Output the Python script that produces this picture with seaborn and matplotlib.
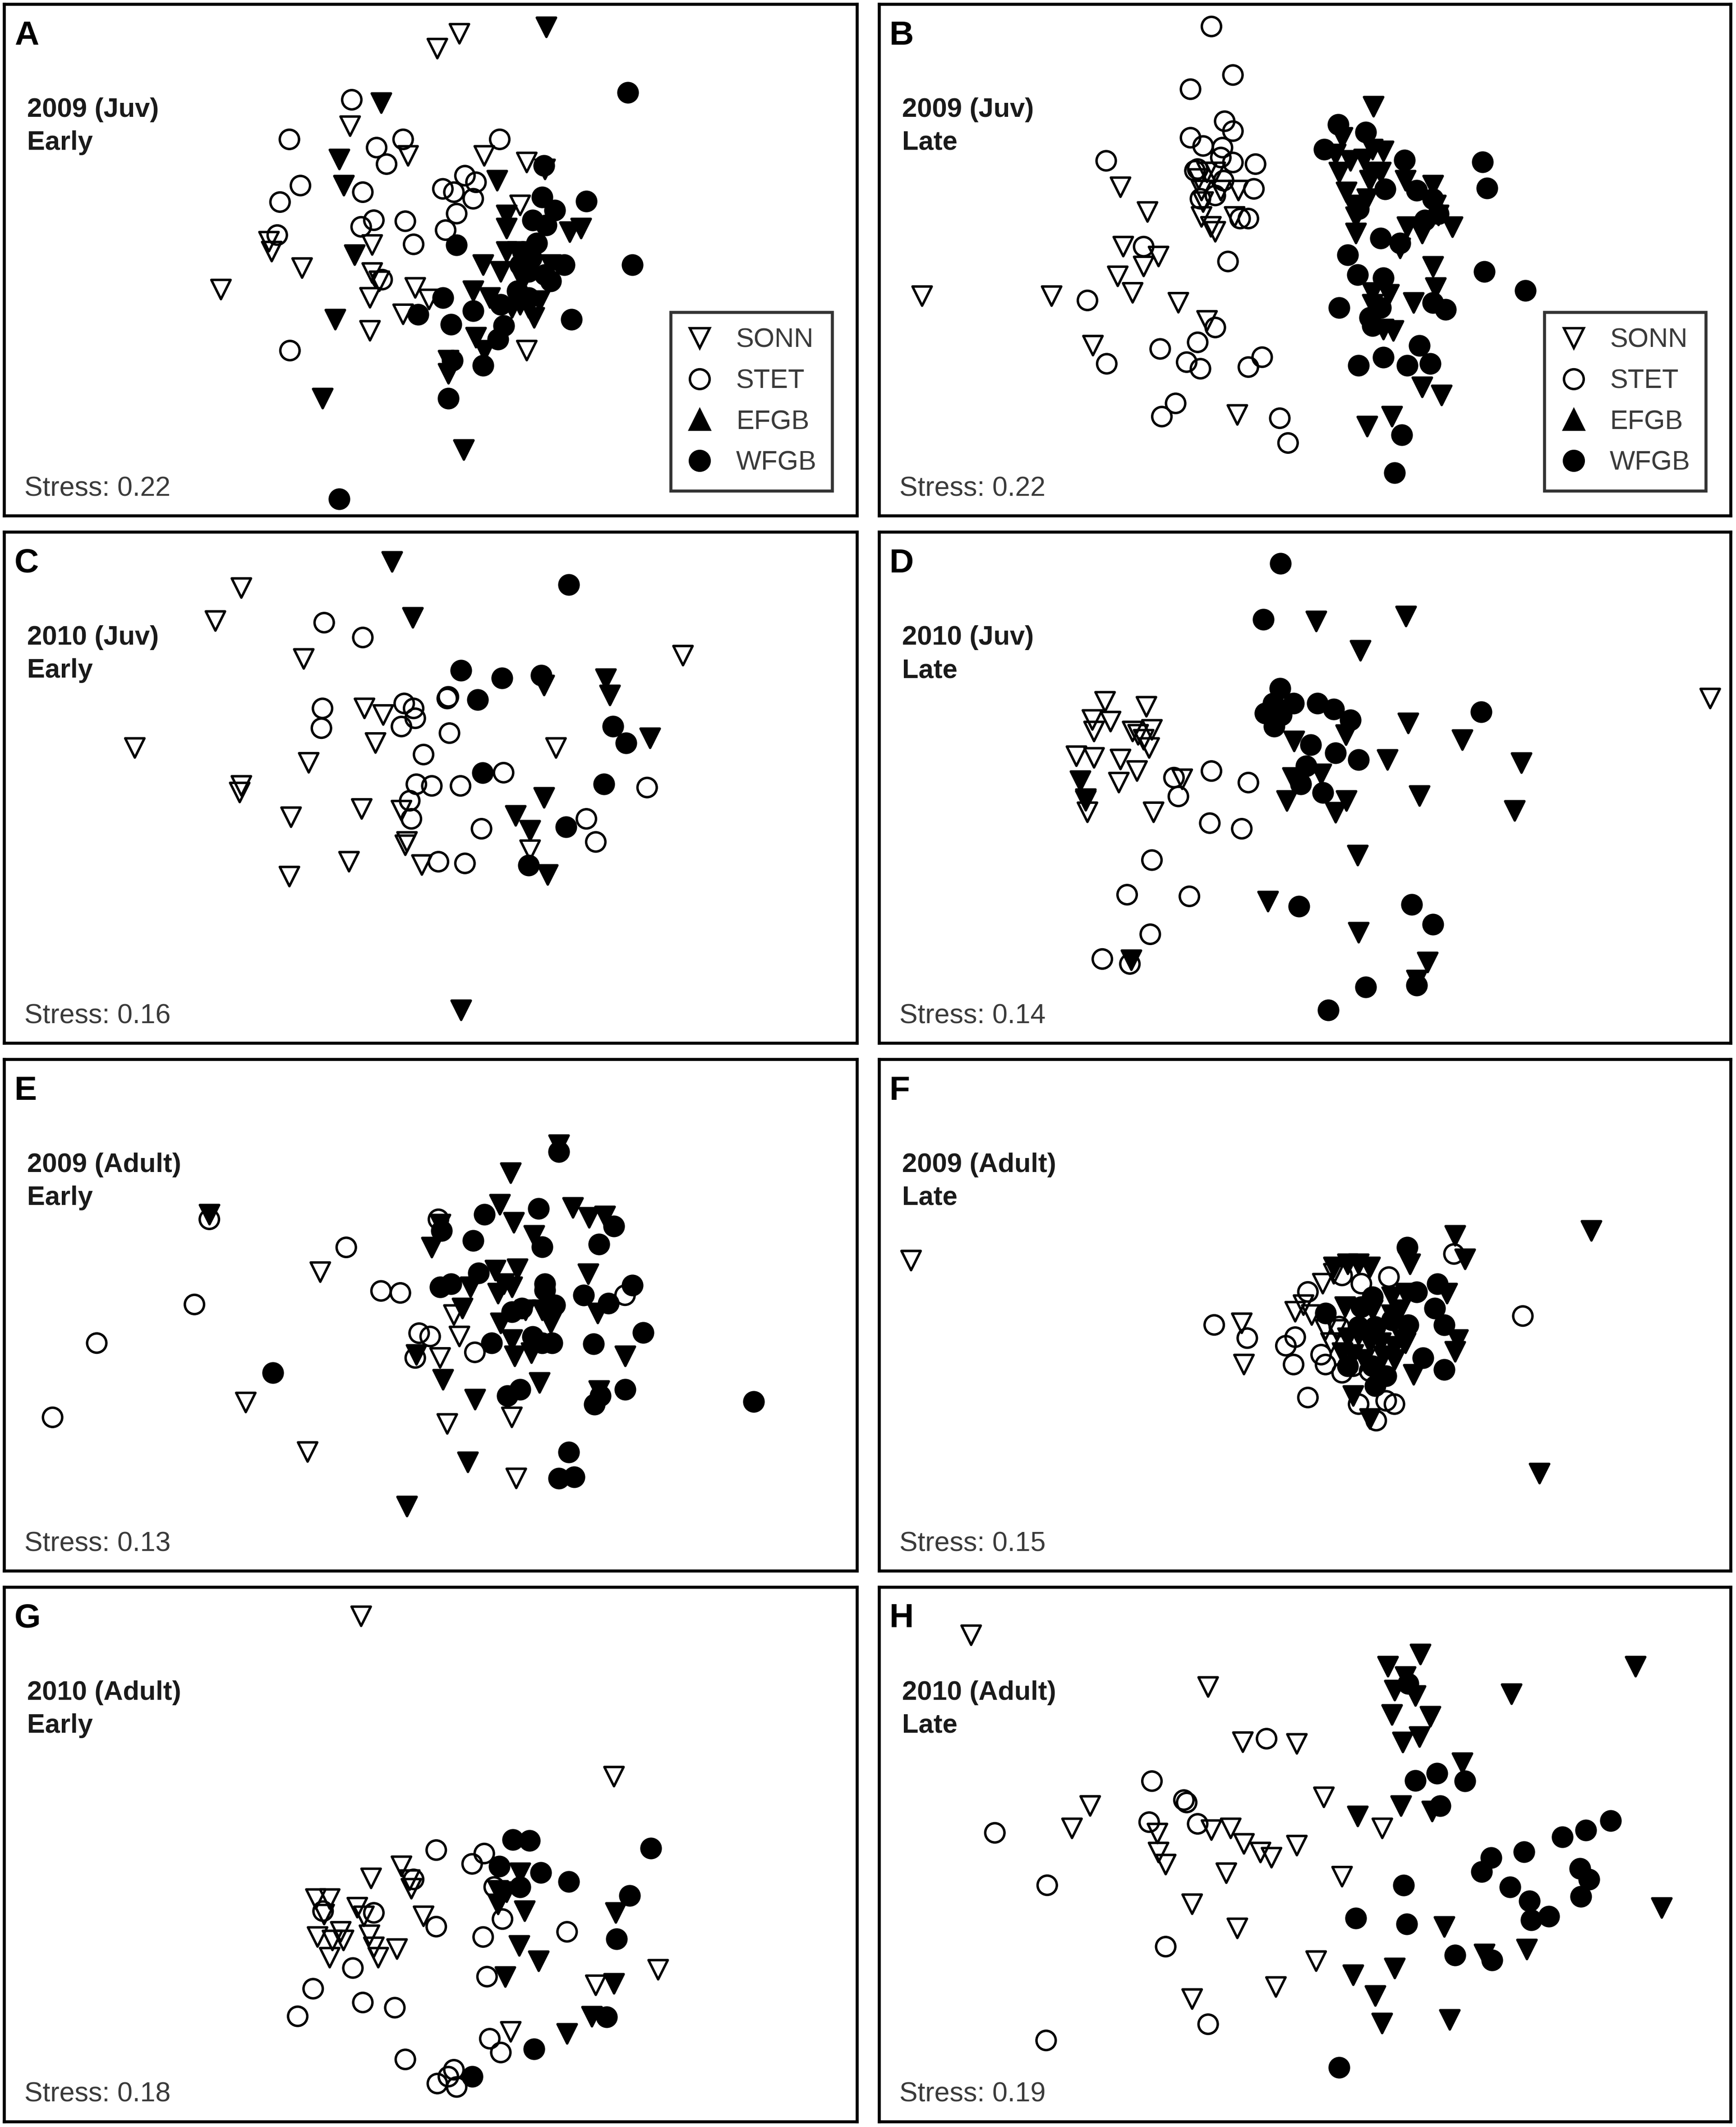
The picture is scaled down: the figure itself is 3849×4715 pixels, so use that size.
import numpy as np
import pandas as pd
import matplotlib
matplotlib.use("Agg")
import matplotlib.pyplot as plt
import seaborn as sns
from matplotlib.lines import Line2D

# ---------- PANEL INFO ----------
panel_letters = ["A", "B", "C", "D", "E", "F", "G", "H"]
panel_years = ["2009 (Juv)", "2009 (Juv)", "2010 (Juv)", "2010 (Juv)",
               "2009 (Adult)", "2009 (Adult)", "2010 (Adult)", "2010 (Adult)"]
panel_times = ["Early", "Late", "Early", "Late", "Early", "Late", "Early", "Late"]
panel_stress = [0.22, 0.22, 0.16, 0.14, 0.13, 0.15, 0.18, 0.19]
sites = ["SONN", "STET", "EFGB", "WFGB"]

# ---------- nMDS SCORES (arbitrary units, axis 2 points down) ----------
A_SONN = [(835, 100), (795, 145), (637, 380), (742, 470), (880, 470), (957, 490), (945, 620),
          (490, 730), (495, 760), (550, 810), (403, 875), (677, 740), (677, 825), (690, 850),
          (673, 900), (755, 870), (780, 905), (733, 950), (673, 1000), (957, 1060)]
A_STET = [(640, 300), (527, 420), (685, 445), (703, 495), (733, 420), (908, 420), (547, 560),
          (510, 610), (660, 580), (505, 710), (657, 685), (680, 665), (737, 668), (752, 738),
          (805, 570), (825, 580), (845, 530), (865, 550), (860, 600), (830, 645), (810, 695),
          (528, 1060), (695, 845)]
A_EFGB = [(992, 80), (693, 310), (617, 480), (625, 560), (903, 545), (990, 510), (920, 650),
          (920, 690), (1035, 700), (1055, 690), (645, 770), (610, 965), (587, 1205), (843, 1360),
          (815, 1090), (815, 1130), (865, 1020), (880, 1060), (860, 880), (878, 800), (910, 820),
          (920, 760), (940, 760), (930, 930), (960, 930), (980, 910), (950, 850), (970, 960),
          (1000, 800), (890, 900), (945, 920)]
A_WFGB = [(1140, 278), (1148, 800), (988, 500), (985, 595), (1065, 607), (1008, 635), (968, 665),
          (992, 680), (975, 735), (950, 760), (1025, 800), (990, 830), (1000, 850), (960, 820),
          (830, 740), (805, 900), (760, 950), (860, 940), (910, 920), (820, 980), (915, 985),
          (905, 1025), (1038, 965), (878, 1105), (822, 1090), (815, 1205), (617, 1510), (960, 900),
          (940, 880), (965, 780), (945, 800)]

B_SONN = [(88, 895), (323, 895), (448, 565), (497, 640), (453, 745), (517, 775), (490, 805),
          (443, 835), (470, 885), (553, 915), (605, 970), (398, 1045), (660, 1255), (595, 575),
          (598, 610), (595, 655), (612, 685), (620, 700), (620, 520), (630, 575), (662, 575),
          (655, 655), (590, 540), (605, 520)]
B_STET = [(613, 78), (652, 225), (575, 268), (637, 365), (652, 395), (575, 415), (598, 440),
          (633, 445), (630, 475), (652, 490), (693, 495), (588, 510), (583, 515), (635, 545),
          (690, 570), (593, 600), (620, 590), (665, 660), (680, 660), (422, 485), (490, 745),
          (643, 790), (388, 908), (620, 990), (520, 1055), (588, 1035), (568, 1095), (593, 1115),
          (423, 1100), (680, 1110), (705, 1080), (548, 1220), (523, 1260), (737, 1265), (752, 1340)]
B_EFGB = [(907, 320), (850, 415), (838, 465), (865, 485), (905, 450), (925, 455), (890, 480),
          (845, 520), (905, 520), (920, 520), (900, 545), (965, 545), (1015, 560), (858, 580),
          (870, 620), (895, 600), (1020, 620), (875, 655), (1025, 650), (1050, 685), (968, 685),
          (995, 705), (875, 705), (955, 750), (1015, 805), (1020, 870), (905, 885), (935, 890),
          (980, 915), (905, 920), (925, 995), (943, 1000), (995, 1170), (1030, 1195), (895, 1290),
          (940, 1260)]
B_WFGB = [(843, 375), (893, 398), (818, 450), (963, 483), (1105, 488), (1113, 568), (928, 570),
          (985, 575), (1015, 600), (1025, 645), (880, 630), (1000, 665), (920, 720), (955, 735),
          (860, 770), (878, 830), (925, 840), (1108, 820), (1183, 878), (845, 930), (920, 930),
          (1015, 915), (1038, 935), (900, 960), (905, 985), (990, 1045), (925, 1080), (880, 1105),
          (968, 1105), (1010, 1100), (958, 1315), (945, 1430)]

C_SONN = [(440, 180), (393, 280), (553, 395), (247, 665), (663, 545), (697, 565), (683, 650),
          (562, 710), (440, 780), (437, 800), (530, 875), (658, 850), (730, 855), (740, 950),
          (737, 960), (635, 1010), (527, 1055), (767, 1020), (1010, 665), (1240, 385), (963, 975)]
C_STET = [(590, 285), (660, 330), (587, 545), (585, 605), (735, 530), (752, 545), (755, 575),
          (730, 600), (817, 620), (815, 510), (813, 515), (770, 685), (757, 775), (785, 780),
          (837, 780), (915, 740), (745, 825), (748, 880), (875, 910), (797, 1010), (845, 1015),
          (1175, 785), (1065, 880), (1082, 950)]
C_EFGB = [(713, 100), (750, 270), (988, 475), (1100, 455), (1107, 505), (1180, 635), (988, 815),
          (937, 870), (963, 915), (995, 1050), (838, 1460)]
C_WFGB = [(1033, 170), (838, 430), (912, 453), (983, 445), (868, 518), (1113, 600), (1137, 650),
          (877, 740), (1097, 775), (1028, 905), (960, 1020)]

D_SONN = [(420, 525), (495, 540), (397, 580), (430, 585), (400, 615), (505, 610), (470, 615),
          (480, 625), (490, 640), (500, 665), (368, 690), (400, 695), (448, 700), (478, 735),
          (445, 770), (560, 760), (385, 825), (388, 860), (508, 860), (1518, 515)]
D_STET = [(545, 755), (613, 735), (680, 770), (553, 812), (610, 893), (668, 910), (505, 1005),
          (460, 1110), (573, 1115), (502, 1230), (415, 1305), (465, 1320)]
D_EFGB = [(803, 280), (966, 265), (883, 370), (970, 590), (857, 625), (763, 645), (1068, 640),
          (932, 700), (1175, 710), (760, 755), (812, 745), (750, 825), (858, 825), (838, 860),
          (990, 810), (1163, 855), (878, 990), (715, 1130), (880, 1225), (1005, 1315), (985, 1370),
          (375, 765), (385, 820), (467, 1308), (770, 770)]
D_WFGB = [(738, 105), (707, 275), (737, 485), (725, 530), (762, 530), (805, 530), (835, 548),
          (865, 580), (710, 560), (740, 565), (727, 600), (793, 655), (838, 680), (880, 700),
          (785, 720), (775, 775), (815, 800), (1102, 555), (772, 1145), (976, 1140), (1015, 1200),
          (893, 1390), (985, 1385), (825, 1460)]

E_SONN = [(583, 655), (448, 1050), (560, 1200), (825, 785), (835, 850), (800, 915), (813, 1115),
          (930, 1095), (938, 1280)]
E_STET = [(382, 495), (630, 580), (693, 712), (728, 718), (355, 753), (178, 870), (98, 1095),
          (797, 495), (762, 840), (782, 850), (863, 898), (755, 915), (1135, 725)]
E_EFGB = [(382, 480), (757, 905), (1015, 270), (928, 355), (908, 450), (933, 505), (970, 545),
          (785, 580), (800, 510), (1040, 460), (1070, 490), (1098, 485), (900, 650), (940, 645),
          (855, 700), (915, 690), (905, 720), (930, 700), (840, 765), (955, 770), (985, 770),
          (1000, 810), (910, 810), (930, 860), (935, 910), (965, 900), (1085, 780), (1135, 910),
          (1068, 660), (805, 980), (863, 1040), (980, 990), (1088, 1015), (850, 1230), (740, 1365)]
E_WFGB = [(1015, 290), (880, 480), (978, 463), (1115, 515), (860, 560), (985, 578), (1088, 570),
          (803, 530), (870, 658), (800, 700), (820, 690), (990, 690), (1060, 725), (1148, 695),
          (1105, 750), (1008, 755), (930, 775), (948, 765), (893, 870), (968, 850), (985, 870),
          (1003, 870), (1078, 873), (1168, 838), (497, 960), (922, 1030), (945, 1010), (1080, 1055),
          (1090, 1030), (1135, 1010), (1368, 1048), (1033, 1200), (1015, 1280), (1043, 1275),
          (990, 710)]

F_SONN = [(68, 620), (668, 810), (672, 935), (815, 690), (765, 775), (795, 785), (820, 830),
          (830, 870), (835, 660), (780, 755), (840, 830)]
F_STET = [(618, 815), (678, 855), (748, 878), (765, 852), (762, 935), (788, 715), (788, 1035),
          (812, 905), (845, 820), (820, 935), (850, 960), (880, 1055), (885, 690), (935, 670),
          (850, 665), (930, 1045), (945, 1055), (912, 1105), (1053, 600), (1178, 788), (900, 955),
          (870, 940)]
F_EFGB = [(835, 640), (860, 630), (880, 630), (900, 640), (973, 630), (1055, 545), (1073, 615),
          (1040, 720), (940, 730), (965, 720), (855, 760), (885, 770), (905, 770), (940, 785),
          (955, 770), (860, 855), (880, 845), (900, 870), (920, 870), (945, 880), (965, 870),
          (850, 900), (870, 905), (925, 910), (945, 920), (1060, 860), (1055, 895), (980, 965),
          (870, 1030), (900, 1100), (1302, 530), (1208, 1265), (960, 860), (890, 920)]
F_WFGB = [(968, 580), (1023, 690), (985, 715), (905, 730), (885, 760), (820, 780), (1018, 765),
          (970, 815), (1035, 815), (880, 820), (910, 820), (997, 915), (1035, 950), (905, 940),
          (930, 970), (910, 1000), (860, 940), (940, 800)]

G_SONN = [(657, 95), (1115, 560), (730, 820), (675, 855), (745, 860), (748, 885), (575, 915),
          (600, 915), (590, 960), (650, 940), (662, 965), (578, 1025), (620, 1010), (605, 1035),
          (625, 1035), (672, 1020), (680, 1055), (688, 1085), (600, 1085), (722, 1060), (770, 965),
          (1195, 1120), (1082, 1165), (928, 1300), (910, 895)]
G_STET = [(793, 773), (858, 813), (880, 783), (752, 858), (588, 950), (680, 955), (793, 995),
          (898, 880), (913, 973), (878, 1025), (1030, 1010), (642, 1115), (570, 1175), (660, 1215),
          (718, 1230), (542, 1255), (885, 1140), (890, 1320), (910, 1360), (737, 1380), (825, 1410),
          (815, 1430), (795, 1450), (830, 1460)]
G_EFGB = [(945, 840), (905, 890), (920, 895), (905, 930), (953, 950), (1118, 955), (943, 1050),
          (978, 1095), (918, 1140), (1115, 1160), (1075, 1255), (1030, 1305)]
G_WFGB = [(932, 743), (962, 745), (1182, 768), (907, 820), (982, 838), (1033, 865), (945, 880),
          (1143, 905), (1120, 1030), (1102, 1257), (970, 1350), (858, 1430)]

H_SONN = [(177, 150), (607, 300), (670, 460), (768, 465), (817, 620), (393, 645), (360, 710),
          (515, 725), (613, 715), (648, 710), (672, 755), (702, 780), (722, 795), (768, 760),
          (517, 780), (530, 815), (640, 840), (923, 710), (850, 850), (578, 930), (660, 1000),
          (803, 1095), (730, 1170), (578, 1205)]
H_STET = [(713, 450), (505, 573), (563, 628), (568, 635), (500, 692), (588, 697), (220, 723),
          (315, 875), (530, 1053), (607, 1278), (313, 1325)]
H_EFGB = [(933, 240), (992, 205), (965, 270), (945, 310), (983, 325), (940, 380), (1010, 385),
          (960, 460), (990, 445), (1382, 240), (1157, 320), (1068, 520), (957, 645), (1013, 660),
          (878, 675), (1430, 940), (1035, 995), (1185, 1060), (1108, 1075), (870, 1135), (945, 1115),
          (910, 1195), (922, 1275), (1045, 1265)]
H_WFGB = [(970, 290), (983, 572), (1022, 550), (1073, 573), (1028, 645), (1337, 688), (1292, 715),
          (1250, 735), (1180, 778), (1120, 795), (1103, 835), (1282, 827), (1298, 858), (1155, 880),
          (1190, 920), (1283, 908), (1225, 965), (1193, 975), (962, 875), (875, 970), (967, 988),
          (1055, 1078), (1122, 1092), (845, 1403)]

scores = {
    "A": [A_SONN, A_STET, A_EFGB, A_WFGB],
    "B": [B_SONN, B_STET, B_EFGB, B_WFGB],
    "C": [C_SONN, C_STET, C_EFGB, C_WFGB],
    "D": [D_SONN, D_STET, D_EFGB, D_WFGB],
    "E": [E_SONN, E_STET, E_EFGB, E_WFGB],
    "F": [F_SONN, F_STET, F_EFGB, F_WFGB],
    "G": [G_SONN, G_STET, G_EFGB, G_WFGB],
    "H": [H_SONN, H_STET, H_EFGB, H_WFGB],
}

# ---------- LONG TABLE ----------
rows = []
for letter in panel_letters:
    for site, pts in zip(sites, scores[letter]):
        for x, y in pts:
            rows.append({"panel": letter, "site": site, "MDS1": x, "MDS2": y})
df = pd.DataFrame(rows)

# ---------- STYLE ----------
sns.set_theme(style="white")
plt.rcParams["font.family"] = ["Liberation Sans", "DejaVu Sans"]

site_marker = {"SONN": "v", "STET": "o", "EFGB": "v", "WFGB": "o"}
site_face = {"SONN": "none", "STET": "none", "EFGB": "black", "WFGB": "black"}
text_grey = "#3a3a3a"
fs = 14.3

fig = plt.figure(figsize=(3849 / 300, 4715 / 300), dpi=300)

col_x = [0.0023, 0.5064]
col_w = [0.4913, 0.4905]
row_y = [0.7576, 0.5096, 0.2615, 0.0026]
row_h = [0.2405, 0.2403, 0.2405, 0.2513]

for i, letter in enumerate(panel_letters):
    r, c = divmod(i, 2)
    ax = fig.add_axes([col_x[c], row_y[r], col_w[c], row_h[r]])
    sub = df[df["panel"] == letter]
    for site in sites:
        d = sub[sub["site"] == site]
        sns.scatterplot(data=d, x="MDS1", y="MDS2", ax=ax, marker=site_marker[site],
                        s=105, color="black", facecolor=site_face[site],
                        edgecolor="black", linewidth=1.3, legend=False, zorder=3)
    ax.set_xlim(10, 1555)
    ax.set_ylim(1560, 10)
    ax.set_xticks([])
    ax.set_yticks([])
    ax.set_xlabel("")
    ax.set_ylabel("")
    for sp in ax.spines.values():
        sp.set_visible(True)
        sp.set_color("black")
        sp.set_linewidth(1.6)

    ax.annotate(letter, xy=(0, 1), xycoords="axes fraction", xytext=(5.5, -21.5),
                textcoords="offset points", fontsize=18, fontweight="bold",
                va="baseline", ha="left", color="black")
    ax.annotate(panel_years[i], xy=(0, 1), xycoords="axes fraction", xytext=(12.3, -60),
                textcoords="offset points", fontsize=fs, fontweight="bold",
                va="baseline", ha="left", color="#1a1a1a")
    ax.annotate(panel_times[i], xy=(0, 1), xycoords="axes fraction", xytext=(12.3, -77.5),
                textcoords="offset points", fontsize=fs, fontweight="bold",
                va="baseline", ha="left", color="#1a1a1a")
    ax.annotate(f"Stress: {panel_stress[i]:.2f}", xy=(0, 0), xycoords="axes fraction",
                xytext=(10.8, 10.5), textcoords="offset points", fontsize=fs + 0.3,
                va="baseline", ha="left", color=text_grey)

    if letter in ("A", "B"):
        handles = [
            Line2D([], [], ls="none", marker="v", ms=10.5, mfc="none", mec="black", mew=1.3),
            Line2D([], [], ls="none", marker="o", ms=10.5, mfc="none", mec="black", mew=1.3),
            Line2D([], [], ls="none", marker="^", ms=10.5, mfc="black", mec="black", mew=1.3),
            Line2D([], [], ls="none", marker="o", ms=10.5, mfc="black", mec="black", mew=1.3),
        ]
        leg = ax.legend(handles, sites, loc="lower right", bbox_to_anchor=(0.971, 0.048),
                        borderaxespad=0, frameon=True, fancybox=False, fontsize=fs,
                        labelspacing=0.6, borderpad=0.58, handlelength=1.0,
                        handletextpad=0.85, labelcolor=text_grey)
        leg.get_frame().set_edgecolor("black")
        leg.get_frame().set_linewidth(1.6)
        leg.set_zorder(5)

fig.savefig("out.png", dpi=300, facecolor="white")
